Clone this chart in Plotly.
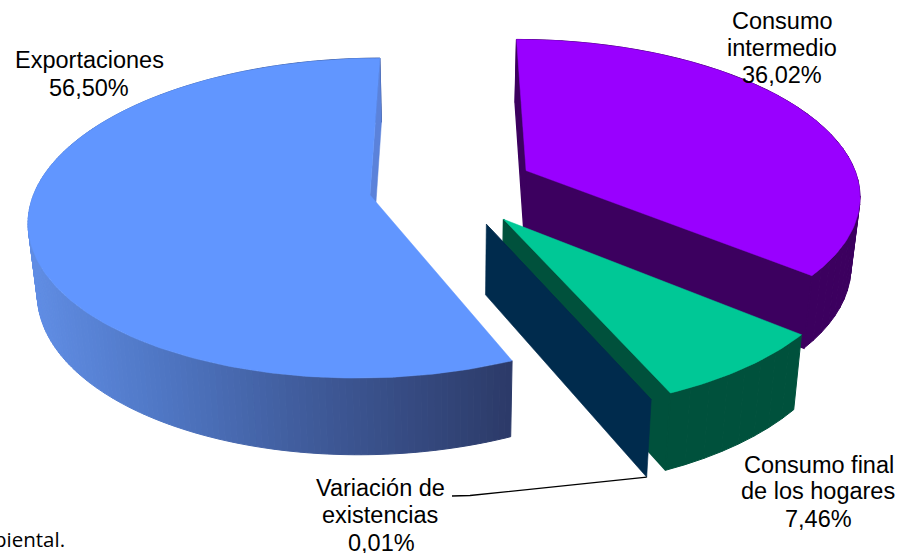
import math
import plotly.graph_objects as go

# --- data -----------------------------------------------------------------
categories = ["Consumo intermedio", "Consumo final de los hogares",
              "Variación de existencias", "Exportaciones"]
shares = [36.02, 7.46, 0.01, 56.50]

label_lines = [
    ("Exportaciones", 89, 60), ("56,50%", 89, 88),
    ("Consumo", 782, 21), ("intermedio", 782, 48), ("36,02%", 782, 75),
    ("Consumo final", 819, 465), ("de los hogares", 818, 491), ("7,46%", 818, 519),
    ("Variación de", 380, 488), ("existencias", 380, 515), ("0,01%", 381, 543),
]

# --- styles ---------------------------------------------------------------
top_colors = ["#9900FF", "#00C896", "#002B4D", "#6196FF"]
side_colors = ["#3C005F", "#00513C", "#002B4D", None]
blue_inner = "#5B82DA"
blue_ramp = [(30, (96, 141, 228)), (150, (80, 120, 198)), (300, (64, 92, 156)),
             (512, (44, 58, 104))]

# projection of the pie (a unit circle on a ground plane seen in perspective)
VX, HY = 449.0, -890.0      # vanishing point
KY, P = 1077.0, 0.1433      # ground depth
RX, BX = 334.0, 3.0         # horizontal radius and shift
EX, EY = 0.249, 0.254       # explosion distance
D0, D1, Q = 26.4, 42.7, 0.022  # thickness


def project(x, y, bottom=False):
    s = 1.0 / (1.0 + P * y)
    px = VX + (BX + RX * x) * s
    py = HY + KY * s
    if bottom:
        px = VX + (px - VX) * (1 - Q)
        py += D0 + D1 * s
    return px, py


def arc(off, a0, a1, bottom=False, step=1.0):
    n = max(1, int(abs(a1 - a0) / step))
    pts = []
    for i in range(n + 1):
        a = math.radians(a0 + (a1 - a0) * i / n)
        pts.append(project(off[0] + math.sin(a), off[1] + math.cos(a), bottom))
    return pts


def ramp_color(x):
    pts = blue_ramp
    if x <= pts[0][0]:
        c = pts[0][1]
    elif x >= pts[-1][0]:
        c = pts[-1][1]
    else:
        for (x0, c0), (x1, c1) in zip(pts, pts[1:]):
            if x0 <= x <= x1:
                t = (x - x0) / (x1 - x0)
                c = tuple(c0[k] + (c1[k] - c0[k]) * t for k in range(3))
                break
    return "rgb(%d,%d,%d)" % tuple(round(v) for v in c)


fig = go.Figure()


def poly(pts, color, name, width=1.4):
    fig.add_trace(go.Scatter(
        x=[p[0] for p in pts] + [pts[0][0]], y=[p[1] for p in pts] + [pts[0][1]],
        mode="lines", fill="toself", fillcolor=color,
        line=dict(color=color, width=width), hoverinfo="skip",
        name=name, showlegend=False))


total = sum(shares)
angles = []
a = 0.0
for v in shares:
    angles.append((a, a + v / total * 360.0))
    a += v / total * 360.0

slices = []
for (a0, a1) in angles:
    mid = math.radians((a0 + a1) / 2)
    slices.append((a0, a1, (EX * math.sin(mid), EY * math.cos(mid))))


def radial_face(off, ang, color, name, width=1.4):
    a = math.radians(ang)
    rim = (off[0] + math.sin(a), off[1] + math.cos(a))
    poly([project(*off), project(*rim), project(*rim, True), project(*off, True)], color, name, width)


def top_face(off, a0, a1, color, name):
    poly([project(*off)] + arc(off, a0, a1), color, name, 0.5)


def side_strip(off, a0, a1, color, name, step):
    top = arc(off, a0, a1, step=step)
    bot = arc(off, a0, a1, True, step=step)
    for i in range(len(top) - 1):
        c = color if color else ramp_color((top[i][0] + top[i + 1][0]) / 2)
        poly([top[i], top[i + 1], bot[i + 1], bot[i]], c, name, 1.0)


# Exportaciones
a0, a1, off = slices[3]
side_strip(off, a0, a1, None, categories[3], 1.0)
radial_face(off, a1, blue_inner, categories[3], 0.5)
top_face(off, a0, a1, top_colors[3], categories[3])

# Consumo intermedio
a0, a1, off = slices[0]
side_strip(off, a0, a1, side_colors[0], categories[0], 3.0)
radial_face(off, a0, side_colors[0], categories[0])
radial_face(off, a1, side_colors[0], categories[0])
top_face(off, a0, a1, top_colors[0], categories[0])

# Consumo final de los hogares
a0, a1, off = slices[1]
side_strip(off, a0, a1, side_colors[1], categories[1], 3.0)
radial_face(off, a1, side_colors[1], categories[1])
top_face(off, a0, a1, top_colors[1], categories[1])

# Variación de existencias
a0, a1, off = slices[2]
radial_face(off, a1, side_colors[2], categories[2], 0.6)
top_face(off, a0, a1, top_colors[2], categories[2])

# leader line of the smallest slice
rad = math.radians(a1)
end = project(off[0] + math.sin(rad), off[1] + math.cos(rad), True)
fig.add_trace(go.Scatter(x=[452, 470, end[0]], y=[496, 495.5, end[1]], mode="lines",
                         line=dict(color="#000000", width=1.3), hoverinfo="skip", showlegend=False))

annotations = [dict(text=t, x=x, y=y, xref="x", yref="y", showarrow=False,
                    xanchor="center", yanchor="middle",
                    font=dict(family="Liberation Sans, Arial, sans-serif", size=23.5, color="#000000"))
               for t, x, y in label_lines]
annotations.append(dict(text="biental.", x=67, y=539, xref="x", yref="y", showarrow=False,
                        xanchor="right", yanchor="middle",
                        font=dict(family="Open Sans, sans-serif", size=20.5, color="#000000")))

fig.update_layout(
    width=899, height=553, autosize=False, margin=dict(l=0, r=0, t=0, b=0),
    paper_bgcolor="#FFFFFF", plot_bgcolor="#FFFFFF", showlegend=False,
    xaxis=dict(range=[0, 899], visible=False, fixedrange=True),
    yaxis=dict(range=[553, 0], visible=False, fixedrange=True),
    annotations=annotations,
)

fig.write_html("out.html", config={"displayModeBar": False},
               post_script="document.body.style.margin='0';document.body.style.overflow='hidden';")
